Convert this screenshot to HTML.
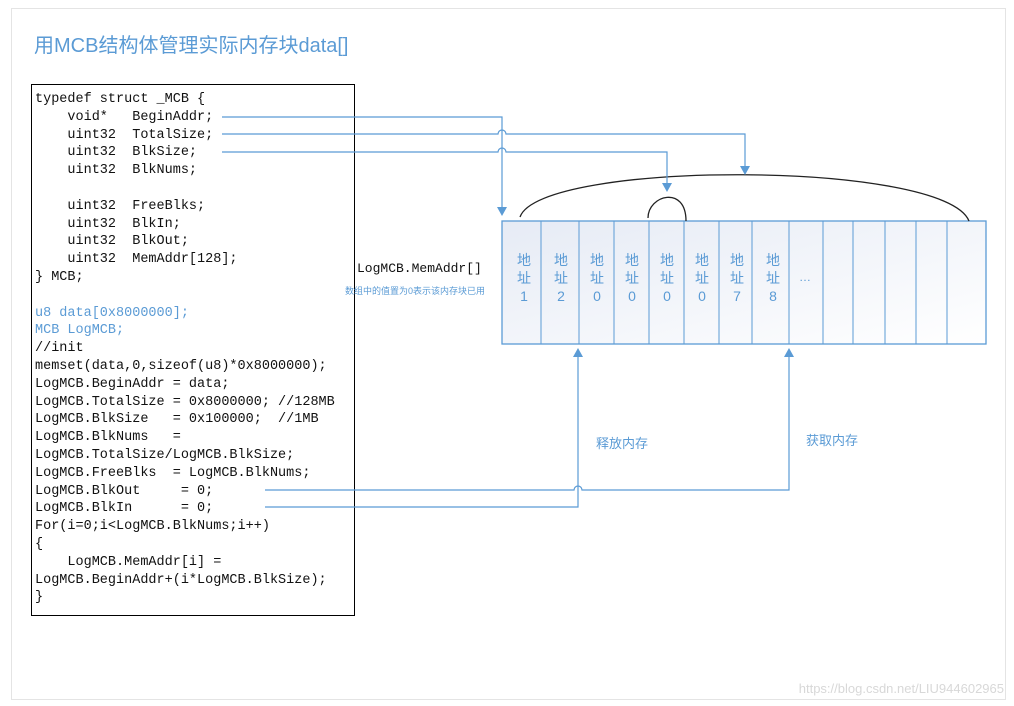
<!DOCTYPE html>
<html><head><meta charset="utf-8"><style>
body{margin:0;width:1014px;height:706px;background:#fff;position:relative;overflow:hidden;font-family:"Liberation Sans","Noto Sans CJK SC",sans-serif}
.code{position:absolute;left:31px;top:84px;width:322px;height:530px;border:1.3px solid #000;}
pre{margin:0;position:absolute;left:3px;top:6px;font-family:"Liberation Mono",monospace;font-size:13.5px;line-height:17.8px;color:#111}
.b{color:#5b9bd5}
</style></head><body>
<div style="position:absolute;left:11px;top:8px;width:993px;height:690px;border:1px solid #e4e4e4"></div>
<div style="position:absolute;left:34px;top:29px;font-size:20px;color:#5b9bd5">用MCB结构体管理实际内存块data[]</div>
<div class="code"><pre>typedef struct _MCB {
    void*   BeginAddr;
    uint32  TotalSize;
    uint32  BlkSize;
    uint32  BlkNums;

    uint32  FreeBlks;
    uint32  BlkIn;
    uint32  BlkOut;
    uint32  MemAddr[128];
} MCB;

<span class="b">u8 data[0x8000000];
MCB LogMCB;</span>
//init
memset(data,0,sizeof(u8)*0x8000000);
LogMCB.BeginAddr = data;
LogMCB.TotalSize = 0x8000000; //128MB
LogMCB.BlkSize   = 0x100000;  //1MB
LogMCB.BlkNums   =
LogMCB.TotalSize/LogMCB.BlkSize;
LogMCB.FreeBlks  = LogMCB.BlkNums;
LogMCB.BlkOut     = 0;
LogMCB.BlkIn      = 0;
For(i=0;i&lt;LogMCB.BlkNums;i++)
{
    LogMCB.MemAddr[i] =
LogMCB.BeginAddr+(i*LogMCB.BlkSize);
}</pre></div>
<div style="position:absolute;left:357px;top:261px;font-family:'Liberation Mono',monospace;font-size:13px;color:#111">LogMCB.MemAddr[]</div>
<div style="position:absolute;left:345px;top:284px;font-size:9px;color:#5b9bd5">数组中的值置为0表示该内存块已用</div>
<svg width="1014" height="706" style="position:absolute;left:0;top:0">
<defs><linearGradient id="g" x1="0" y1="0" x2="1" y2="1"><stop offset="0" stop-color="#e6ebf5"/><stop offset="1" stop-color="#fff"/></linearGradient></defs>
<rect x="502" y="221" width="484" height="123" fill="url(#g)" stroke="#5b9bd5" stroke-width="1.3"/>
<g stroke="#5b9bd5" stroke-width="1">
<line x1="541" y1="221" x2="541" y2="344"/><line x1="579" y1="221" x2="579" y2="344"/><line x1="614" y1="221" x2="614" y2="344"/><line x1="649" y1="221" x2="649" y2="344"/><line x1="684" y1="221" x2="684" y2="344"/><line x1="719" y1="221" x2="719" y2="344"/><line x1="752" y1="221" x2="752" y2="344"/><line x1="789" y1="221" x2="789" y2="344"/><line x1="823" y1="221" x2="823" y2="344"/><line x1="853" y1="221" x2="853" y2="344"/><line x1="885" y1="221" x2="885" y2="344"/><line x1="916" y1="221" x2="916" y2="344"/><line x1="947" y1="221" x2="947" y2="344"/>
</g>
<g font-size="14" fill="#5b9bd5" text-anchor="middle" font-family="Liberation Sans,Noto Sans CJK SC,sans-serif">
<text x="524" y="265">地</text><text x="524" y="283">址</text><text x="524" y="301">1</text>
<text x="561" y="265">地</text><text x="561" y="283">址</text><text x="561" y="301">2</text>
<text x="597" y="265">地</text><text x="597" y="283">址</text><text x="597" y="301">0</text>
<text x="632" y="265">地</text><text x="632" y="283">址</text><text x="632" y="301">0</text>
<text x="667" y="265">地</text><text x="667" y="283">址</text><text x="667" y="301">0</text>
<text x="702" y="265">地</text><text x="702" y="283">址</text><text x="702" y="301">0</text>
<text x="737" y="265">地</text><text x="737" y="283">址</text><text x="737" y="301">7</text>
<text x="773" y="265">地</text><text x="773" y="283">址</text><text x="773" y="301">8</text>
<text x="805" y="281" font-size="12">…</text></g>
<g fill="none" stroke="#222" stroke-width="1.3">
<path d="M520,217 C540,160 945,160 969,221"/>
<path d="M648,218 C648,195 686,185 686,221"/>
</g>
<g fill="none" stroke="#5b9bd5" stroke-width="1.2">
<path d="M222,117 H502 V208"/>
<path d="M222,134 H498 A4,4 0 0 1 506,134 H745 V168"/>
<path d="M222,152 H498 A4,4 0 0 1 506,152 H667 V185"/>
<path d="M265,490 H574 A4,4 0 0 1 582,490 H789 V356"/>
<path d="M265,507 H578 V356"/>
</g>
<g fill="#5b9bd5">
<path d="M497,207 L507,207 L502,216z"/>
<path d="M740,166 L750,166 L745,175z"/>
<path d="M662,183 L672,183 L667,192z"/>
<path d="M784,357 L794,357 L789,348z"/>
<path d="M573,357 L583,357 L578,348z"/>
</g>
<text x="596" y="448" font-size="13" fill="#5b9bd5" font-family="Liberation Sans,Noto Sans CJK SC,sans-serif">释放内存</text>
<text x="806" y="445" font-size="13" fill="#5b9bd5" font-family="Liberation Sans,Noto Sans CJK SC,sans-serif">获取内存</text>
<text x="1004" y="693" font-size="13" fill="#d8d8d8" text-anchor="end">https://blog.csdn.net/LIU944602965</text>
</svg>
</body></html>
